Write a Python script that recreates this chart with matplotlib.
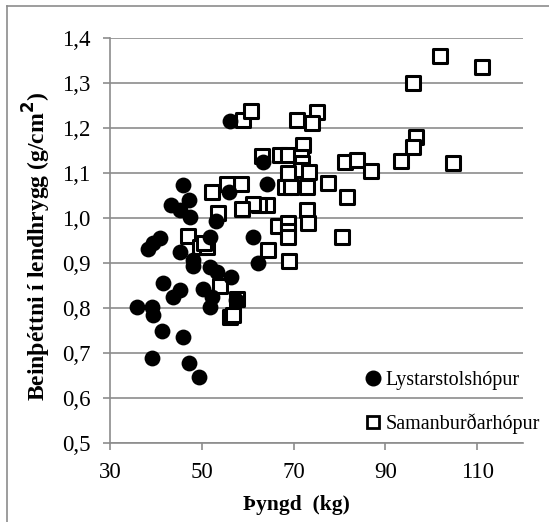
import matplotlib
matplotlib.use("Agg")
import matplotlib.pyplot as plt
from matplotlib.lines import Line2D

# Lystarstolshópur (filled circles)
lyst_x = [56.2, 63.4, 45.9, 64.2, 56.0, 43.3, 47.2, 45.3, 47.4, 53.0,
          38.2, 39.3, 40.8, 45.2, 51.8, 61.2, 48.0, 48.1, 51.8, 53.4,
          56.3, 62.2, 35.8, 39.1, 39.3, 41.5, 43.8, 45.3, 41.3, 45.8,
          39.1, 47.2, 49.3, 50.3, 52.2, 51.8, 57.5]
lyst_y = [1.215, 1.125, 1.073, 1.075, 1.057, 1.030, 1.039, 1.017, 1.002, 0.993,
          0.932, 0.945, 0.955, 0.925, 0.958, 0.958, 0.907, 0.893, 0.892, 0.880,
          0.870, 0.900, 0.802, 0.802, 0.785, 0.855, 0.825, 0.841, 0.750, 0.735,
          0.690, 0.677, 0.647, 0.842, 0.825, 0.802, 0.818]

# Samanburðarhópur (open squares)
saman_x = [101.9, 111.1, 96.0, 96.7, 96.0, 93.4, 104.8, 81.3, 83.8, 86.8,
           77.6, 81.6, 80.5, 70.8, 75.0, 74.0, 72.1, 67.1, 68.8, 71.6,
           71.9, 71.6, 73.4, 68.8, 68.1, 69.4, 72.9, 72.9, 73.2, 66.6,
           68.8, 68.8, 68.8, 69.1, 64.5, 63.2, 64.2, 62.5, 61.2, 58.8,
           58.6, 55.6, 52.2, 53.5, 47.0, 49.6, 51.2, 50.5, 54.0, 57.7,
           56.2, 56.9, 59.0, 60.7]
saman_y = [1.360, 1.335, 1.300, 1.180, 1.158, 1.126, 1.122, 1.124, 1.130, 1.105,
           1.078, 1.046, 0.958, 1.218, 1.235, 1.211, 1.162, 1.141, 1.141, 1.135,
           1.122, 1.106, 1.102, 1.100, 1.068, 1.068, 1.068, 1.017, 0.990, 0.983,
           0.990, 0.972, 0.957, 0.905, 0.928, 1.138, 1.028, 1.028, 1.032, 1.021,
           1.075, 1.075, 1.057, 1.012, 0.960, 0.935, 0.935, 0.945, 0.850, 0.821,
           0.780, 0.785, 1.218, 1.238]

x_ticks = [30, 50, 70, 90, 110]
y_ticks = [0.5, 0.6, 0.7, 0.8, 0.9, 1.0, 1.1, 1.2, 1.3, 1.4]

plt.rcParams['font.family'] = ['Liberation Serif', 'DejaVu Serif']
gray = '#8c8c8c'

fig = plt.figure(figsize=(5.49, 5.22), dpi=100)
ax = fig.add_axes([110 / 549, 1 - 443 / 522, 413 / 549, 405 / 522])

ax.scatter(saman_x, saman_y, marker='s', s=115, facecolors='white',
           edgecolors='black', linewidths=2.2, zorder=3)
ax.scatter(lyst_x, lyst_y, marker='o', s=130, color='black',
           linewidths=0, zorder=4)

ax.set_xlim(30, 120)
ax.set_ylim(0.5, 1.4)
ax.set_xticks(x_ticks)
ax.set_yticks(y_ticks)
ax.set_yticklabels([f"{v:.1f}".replace('.', ',') for v in y_ticks])
ax.tick_params(axis='both', direction='out', length=5, color=gray,
               labelsize=16.5, width=1.2)
ax.tick_params(axis='x', pad=9)
ax.tick_params(axis='y', pad=9)
ax.grid(axis='y', color=gray, linewidth=1.2, zorder=0)
ax.set_axisbelow(True)
for side in ['top', 'right']:
    ax.spines[side].set_visible(False)
for side in ['left', 'bottom']:
    ax.spines[side].set_color(gray)
    ax.spines[side].set_linewidth(1.2)

fig.text(37 / 549, 1 - 246 / 522, 'Beinþéttni í lendhrygg (g/cm$^\\mathbf{2}$)',
         rotation=90, ha='center', va='center', fontsize=17, fontweight='bold')
fig.text(296 / 549, 1 - 505 / 522, 'Þyngd  (kg)', ha='center', va='center',
         fontsize=15.5, fontweight='bold')

handles = [Line2D([], [], marker='o', color='black', linestyle='none', markersize=10.5),
           Line2D([], [], marker='s', markerfacecolor='white', markeredgecolor='black',
                  markeredgewidth=2, linestyle='none', markersize=9)]
ax.legend(handles, ['Lystarstolshópur', 'Samanburðarhópur'], frameon=False,
          loc='upper left', bbox_to_anchor=(357 / 549, 1 - 361 / 522),
          bbox_transform=fig.transFigure, fontsize=14.5, handlelength=0.6,
          handletextpad=0.3, labelspacing=1.15, borderpad=0)

# outer chart border (left and top edges visible)
fig.add_artist(Line2D([7 / 549, 7 / 549], [0.0, 1 - 6 / 522],
                      transform=fig.transFigure, color=gray, linewidth=1.2))
fig.add_artist(Line2D([7 / 549, 1.0], [1 - 6 / 522, 1 - 6 / 522],
                      transform=fig.transFigure, color=gray, linewidth=1.2))

fig.savefig('out.png', dpi=100)
